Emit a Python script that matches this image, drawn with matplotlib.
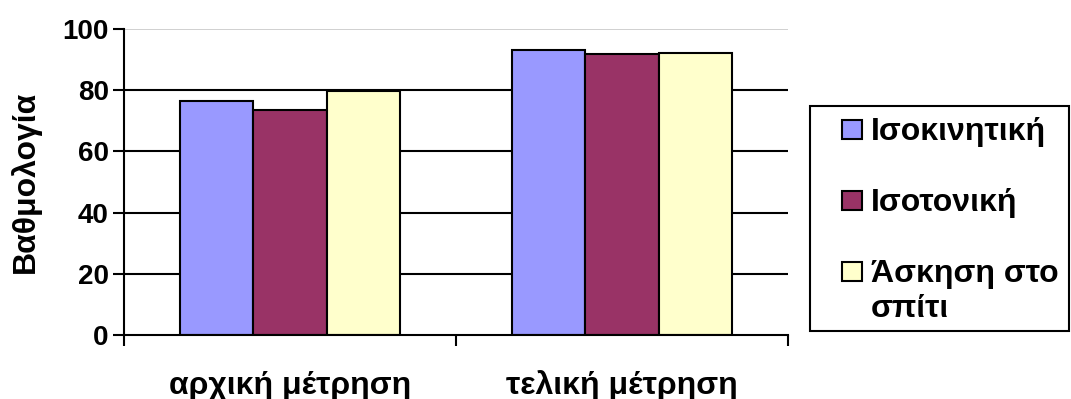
import matplotlib.pyplot as plt
import numpy as np
from matplotlib.patches import Rectangle
from matplotlib.transforms import blended_transform_factory

plt.rcParams["font.family"] = ["Liberation Sans", "DejaVu Sans"]
plt.rcParams["font.weight"] = "bold"

categories = ["αρχική μέτρηση", "τελική μέτρηση"]
series_names = ["Ισοκινητική", "Ισοτονική", "Άσκηση στο\nσπίτι"]
isokinetic = [76.5, 93.1]
isotonic = [73.6, 91.9]
home_exercise = [79.8, 92.3]
colors = ["#9999FF", "#993366", "#FFFFCC"]

W, H = 1071, 399


def fx(px):
    return px / W


def fy(py):
    return 1 - py / H


fig = plt.figure(figsize=(W / 100, H / 100), dpi=100)
ax = fig.add_axes([fx(124), fy(335), fx(664), 306 / H])

x = np.arange(len(categories))
width = 0.22
for i, (vals, col) in enumerate(zip([isokinetic, isotonic, home_exercise], colors)):
    ax.bar(x + (i - 1) * width, vals, width, color=col, edgecolor="black",
           linewidth=1.5, zorder=3)

ax.set_xlim(-0.5, 1.5)
ax.set_ylim(0, 100)
ax.set_yticks(np.arange(0, 101, 20))
for yv in range(20, 100, 20):
    ax.axhline(yv, color="black", linewidth=1.5, zorder=1)
ax.axhline(100, color="#C8C8C8", linewidth=1.2, zorder=1)

# category boundaries get the ticks, names go underneath
ax.set_xticks([-0.5, 0.5, 1.5])
ax.set_xticklabels([])
ax.tick_params(axis="x", length=8, width=1.5, direction="out")
ax.tick_params(axis="y", length=8, width=1.5, labelsize=20, pad=3)
trans = blended_transform_factory(ax.transData, fig.transFigure)
for xi, cat in zip(x, categories):
    ax.text(xi, fy(394), cat, transform=trans, ha="center", va="baseline",
            fontsize=23, fontweight="bold", clip_on=False)

for side in ["top", "right"]:
    ax.spines[side].set_visible(False)
ax.spines["left"].set_linewidth(1.5)
ax.spines["bottom"].set_linewidth(1.5)
ax.spines["bottom"].set_zorder(4)

fig.text(fx(25), fy(182), "Βαθμολογία", rotation=90, ha="center", va="center",
         fontsize=23, fontweight="bold")

# legend box drawn by hand so the square sits beside the first text line
fig.patches.append(Rectangle((fx(810), fy(331)), fx(1069) - fx(810), fy(106) - fy(331),
                             transform=fig.transFigure, facecolor="white",
                             edgecolor="black", linewidth=1.5))
baselines = [140, 211, 282]
for name, col, by in zip(series_names, colors, baselines):
    fig.patches.append(Rectangle((fx(842), fy(by - 1)), fx(20), 19 / H,
                                 transform=fig.transFigure, facecolor=col,
                                 edgecolor="black", linewidth=1.5))
    first, *rest = name.split("\n")
    fig.text(fx(871), fy(by), first, fontsize=23, fontweight="bold",
             ha="left", va="baseline")
    for k, line in enumerate(rest, start=1):
        fig.text(fx(871), fy(by + 35 * k), line, fontsize=23, fontweight="bold",
                 ha="left", va="baseline")

fig.savefig("out.png", dpi=100)
